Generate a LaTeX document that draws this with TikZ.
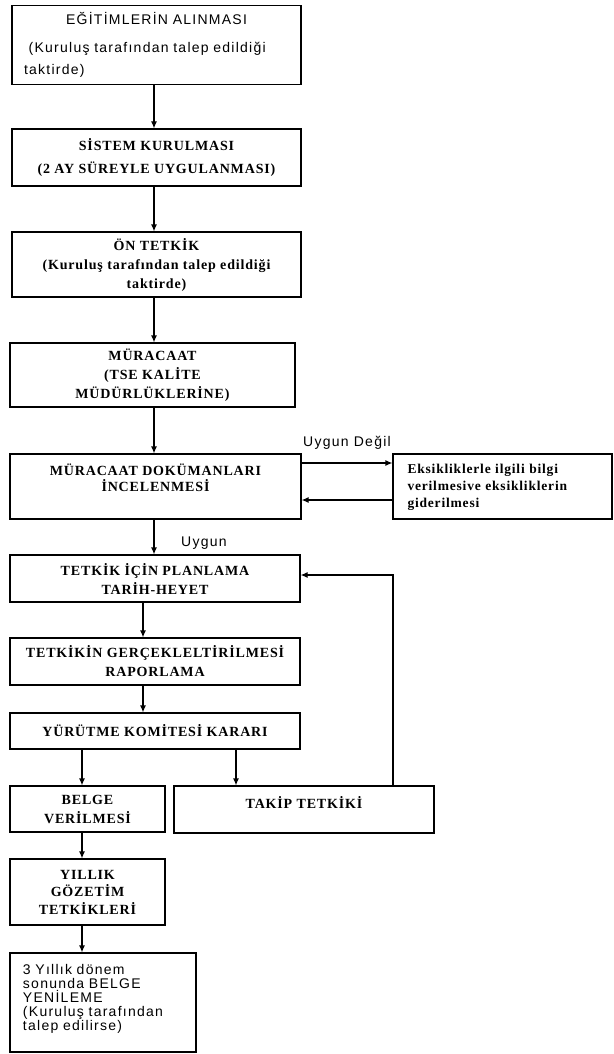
\documentclass[tikz,border=0pt]{standalone}
\usepackage{fontspec}
\setmainfont{Liberation Serif}[LetterSpace=6]
\setsansfont{Liberation Sans}[LetterSpace=9]
\usetikzlibrary{arrows.meta}
\def\lw{1.2pt}
\def\serifsize{\bfseries\fontsize{14}{19}\selectfont}
\def\sanssize{\sffamily\fontsize{14}{15}\selectfont}

\begin{document}
\begin{tikzpicture}[
    x=1pt,y=-1pt,
    stage/.style 2 args={draw,line width=\lw,inner sep=0pt,align=center,font=\serifsize,minimum width=#1,minimum height=#2},
    note/.style={font=\sanssize},
    flow/.style={line width=\lw,-{Latex[length=7pt,width=6pt]}}
  ]
  \useasboundingbox (0,0) rectangle (613,1054);

  % main column
  \node[stage={289pt}{79pt},font=\sffamily\fontsize{14}{22}\selectfont,text width=265pt,align=left] (egitim) at (156.5,45)
    {\makebox[265pt]{EĞİTİMLERİN ALINMASI}\\[6pt]
     \ (Kuruluş tarafından talep edildiği\\taktirde)};
  \node[stage={289pt}{57pt},font=\bfseries\fontsize{14}{23}\selectfont] (sistem) at (156.5,157.5) {SİSTEM KURULMASI\\(2 AY SÜREYLE UYGULANMASI)};
  \node[stage={289pt}{65pt}] (ontetkik) at (156.5,264.5) {ÖN TETKİK\\(Kuruluş tarafından talep edildiği\\taktirde)};
  \node[stage={285pt}{64pt}] (muracaat) at (152.5,375) {MÜRACAAT\\(TSE KALİTE\\MÜDÜRLÜKLERİNE)};
  \node[stage={291pt}{65pt},font=\bfseries\fontsize{14}{16}\selectfont] (inceleme) at (155.5,486.5) {MÜRACAAT DOKÜMANLARI\\İNCELENMESİ\\[2pt]};
  \node[stage={219pt}{65pt},text width=190pt,align=left,font=\bfseries\fontsize{13.5}{17}\selectfont] (eksik) at (502.5,486.5)
    {\mbox{}\\[-7pt]Eksikliklerle ilgili bilgi\\verilmesive eksikliklerin\\giderilmesi};
  \node[stage={290pt}{47pt}] (plan) at (155,578.5) {TETKİK İÇİN PLANLAMA\\TARİH-HEYET};
  \node[stage={290pt}{47pt}] (rapor) at (155,661.5) {TETKİKİN GERÇEKLELTİRİLMESİ\\RAPORLAMA};
  \node[stage={290pt}{36pt}] (karar) at (155,731) {YÜRÜTME KOMİTESİ KARARI};
  \node[stage={155pt}{46pt}] (belge) at (87.5,809) {BELGE\\VERİLMESİ};
  \node[stage={260pt}{47pt}] (takip) at (304,809.5) {TAKİP TETKİKİ\\[-4pt]};
  \node[stage={155pt}{66pt},font=\bfseries\fontsize{14}{17.5}\selectfont] (gozetim) at (87.5,892) {YILLIK\\GÖZETİM\\TETKİKLERİ};
  \node[stage={186pt}{99pt},font=\sffamily\fontsize{14}{14}\selectfont,text width=160pt,align=left] (yenileme) at (103,1002.5)
    {3 Yıllık dönem\\sonunda BELGE\\ YENİLEME\\(Kuruluş tarafından\\talep edilirse)\\[-4pt]\mbox{}};

  % labels
  \node[note] (uygunDegil) at (347,443) {Uygun Değil};
  \node[note] (uygun) at (204,543) {Uygun};

  % arrow columns
  \coordinate (colA) at (154,0);
  \coordinate (colB) at (143,0);
  \coordinate (colL) at (82,0);
  \coordinate (colR) at (236,0);
  \coordinate (colT) at (393,0);

  \draw[flow] (egitim.south -| colA) -- (sistem.north -| colA);
  \draw[flow] (sistem.south -| colA) -- (ontetkik.north -| colA);
  \draw[flow] (ontetkik.south -| colA) -- (muracaat.north -| colA);
  \draw[flow] (muracaat.south -| colA) -- (inceleme.north -| colA);
  \draw[flow] (inceleme.south -| colA) -- (plan.north -| colA);
  \draw[flow] ([yshift=23.5pt]inceleme.east) -- ([yshift=23.5pt]inceleme.east -| eksik.west);
  \draw[flow] ([yshift=-13.5pt]eksik.west) -- ([yshift=-13.5pt]eksik.west -| inceleme.east);
  \draw[flow] (plan.south -| colB) -- (rapor.north -| colB);
  \draw[flow] (rapor.south -| colB) -- (karar.north -| colB);
  \draw[flow] (karar.south -| colL) -- (belge.north -| colL);
  \draw[flow] (karar.south -| colR) -- (takip.north -| colR);
  \draw[flow] (takip.north -| colT) |- ([yshift=3.5pt]plan.east);
  \draw[flow] (belge.south -| colL) -- (gozetim.north -| colL);
  \draw[flow] (gozetim.south -| colL) -- (yenileme.north -| colL);

\end{tikzpicture}
\end{document}
